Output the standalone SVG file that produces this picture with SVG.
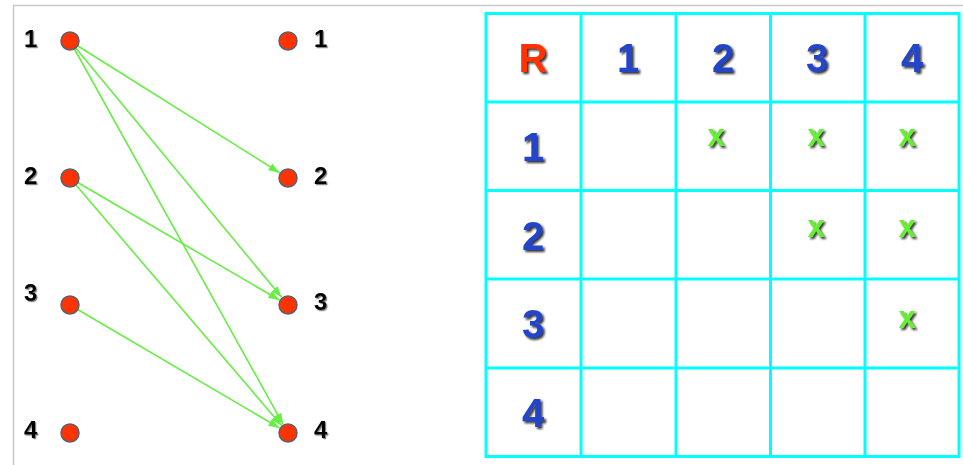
<svg xmlns="http://www.w3.org/2000/svg" width="963" height="465" viewBox="0 0 963 465">
<style>
.lbl{font-family:"Liberation Sans",Arial,sans-serif;font-weight:bold;font-size:24px;fill:#000;filter:url(#sh1)}
.dot{fill:#ff3300;stroke:#5a6070;stroke-width:1.5}
.edge{stroke:#66ee44;stroke-width:1.6;fill:none;marker-end:url(#ah)}
.grid{stroke:#00ffff;stroke-width:3;fill:none}
.hd{font-family:"Liberation Sans",Arial,sans-serif;font-weight:bold;font-size:40px;fill:#2244cc;text-anchor:middle;filter:url(#sh2)}
.r{fill:#ff3300}
.x{font-family:"Liberation Sans",Arial,sans-serif;font-weight:bold;font-size:31px;fill:#66ee33;text-anchor:middle;filter:url(#sh2)}
</style>
<defs>
<marker id="ah" markerUnits="userSpaceOnUse" markerWidth="11" markerHeight="8" refX="11" refY="4" orient="auto">
<path d="M0,0 L11,4 L0,8 z" fill="#66ee44"/>
</marker>
<filter id="sh1" x="-20%" y="-20%" width="150%" height="150%">
<feDropShadow dx="1.2" dy="1.2" stdDeviation="0.7" flood-color="#666" flood-opacity="0.8"/>
</filter>
<filter id="sh2" x="-20%" y="-20%" width="150%" height="150%">
<feDropShadow dx="2" dy="2" stdDeviation="0.8" flood-color="#111" flood-opacity="0.85"/>
</filter>
</defs>
<rect width="963" height="465" fill="#fff"/>
<path d="M13.5,465 V5.5 H963" stroke="#c8c8c8" stroke-width="1.5" fill="none"/>
<g id="connectors">
<line class="edge" x1="70" y1="41" x2="279.5" y2="172.7"/>
<line class="edge" x1="70" y1="41" x2="281.6" y2="297.3"/>
<line class="edge" x1="70" y1="41" x2="283.1" y2="424.3"/>
<line class="edge" x1="70" y1="178" x2="279.4" y2="300"/>
<line class="edge" x1="70" y1="178" x2="281.5" y2="425.4"/>
<line class="edge" x1="70" y1="305" x2="279.4" y2="427.9"/>
</g>
<g id="L1"><circle class="dot" cx="70" cy="41" r="9"/><text class="lbl" x="24" y="47">1</text></g>
<g id="L2"><circle class="dot" cx="70" cy="178" r="9"/><text class="lbl" x="24" y="184">2</text></g>
<g id="L3"><circle class="dot" cx="70" cy="305" r="9"/><text class="lbl" x="24" y="301">3</text></g>
<g id="L4"><circle class="dot" cx="70" cy="433" r="9"/><text class="lbl" x="24" y="438">4</text></g>
<g id="R1"><circle class="dot" cx="288" cy="41" r="9"/><text class="lbl" x="314" y="47">1</text></g>
<g id="R2"><circle class="dot" cx="288" cy="178" r="9"/><text class="lbl" x="314" y="184">2</text></g>
<g id="R3"><circle class="dot" cx="288" cy="305" r="9"/><text class="lbl" x="314" y="310">3</text></g>
<g id="R4"><circle class="dot" cx="288" cy="433" r="9"/><text class="lbl" x="314" y="438">4</text></g>
<g id="table">
<rect class="grid" x="486" y="13.5" width="473" height="443"/>
<path class="grid" d="M581,13.5V456.5 M676,13.5V456.5 M770.5,13.5V456.5 M865,13.5V456.5 M486,102H959 M486,190.5H959 M486,279H959 M486,368H959"/>
<text class="hd r" x="533" y="72">R</text>
<text class="hd" x="628" y="72">1</text>
<text class="hd" x="723" y="72">2</text>
<text class="hd" x="817" y="72">3</text>
<text class="hd" x="912" y="72">4</text>
<text class="hd" x="533" y="161">1</text>
<text class="hd" x="533" y="250">2</text>
<text class="hd" x="533" y="338">3</text>
<text class="hd" x="533" y="427">4</text>
<text class="x" x="716" y="146">x</text>
<text class="x" x="816" y="146">x</text>
<text class="x" x="907" y="146">x</text>
<text class="x" x="816" y="237">x</text>
<text class="x" x="907" y="237">x</text>
<text class="x" x="907" y="328">x</text>
</g>
</svg>
